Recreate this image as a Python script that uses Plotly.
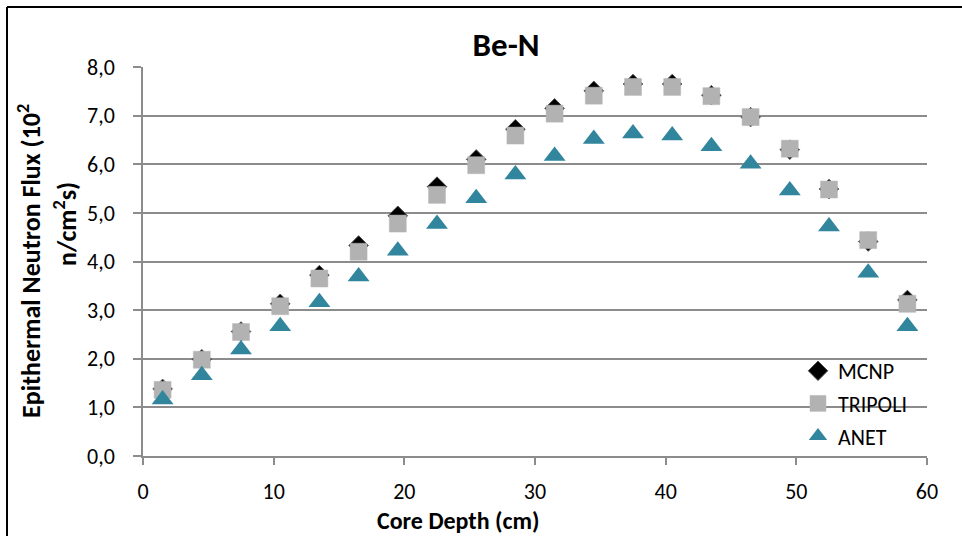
import plotly.graph_objects as go

# ---- data ----
depth = [1.5, 4.5, 7.5, 10.5, 13.5, 16.5, 19.5, 22.5, 25.5, 28.5,
         31.5, 34.5, 37.5, 40.5, 43.5, 46.5, 49.5, 52.5, 55.5, 58.5]
mcnp = [1.38, 1.99, 2.56, 3.13, 3.72, 4.33, 4.94, 5.54, 6.10, 6.72,
        7.15, 7.51, 7.65, 7.65, 7.42, 6.97, 6.30, 5.49, 4.41, 3.21]
tripoli = [1.36, 1.98, 2.55, 3.08, 3.65, 4.20, 4.78, 5.37, 5.98, 6.59,
           7.04, 7.41, 7.59, 7.59, 7.40, 6.97, 6.32, 5.48, 4.44, 3.13]
anet = [1.16, 1.66, 2.19, 2.67, 3.16, 3.69, 4.22, 4.77, 5.30, 5.79,
        6.17, 6.52, 6.63, 6.59, 6.37, 6.01, 5.46, 4.72, 3.77, 2.67]
series_names = ["MCNP", "TRIPOLI", "ANET"]
title_text = "Be-N"
x_title = "Core Depth (cm)"
y_title_1 = "Epithermal Neutron Flux (10<sup>2</sup>"
y_title_2 = "n/cm<sup>2</sup>s)"

FONT = "Carlito, Calibri, Lato, sans-serif"
GRID = "#8C8C8C"

# plot area in pixels
W, H = 962, 536
L, R, T, B = 143, 927, 67, 456

def px(xp):
    return (xp - L) / (R - L)

def py(yp):
    return (B - yp) / (B - T)

fig = go.Figure()
fig.add_trace(go.Scatter(
    x=depth, y=mcnp, mode="markers", name=series_names[0], legendgroup="a",
    marker=dict(symbol="diamond", size=15, color="#000000",
                line=dict(color="#505050", width=1))))
fig.add_trace(go.Scatter(
    x=depth, y=tripoli, mode="markers", name=series_names[1], legendgroup="b",
    marker=dict(symbol="square", size=17, color="#B2B2B2",
                line=dict(color="#B8B8B8", width=0.5))))
fig.add_trace(go.Scatter(
    x=depth, y=anet, mode="markers", name=series_names[2], legendgroup="c",
    marker=dict(symbol="triangle-up", size=19, color="#31859C",
                line=dict(width=0))))

fig.update_layout(
    width=W, height=H,
    margin=dict(l=L, r=W - R, t=T, b=H - B, pad=0),
    paper_bgcolor="white", plot_bgcolor="white",
    separators=", ",
    font=dict(family=FONT, size=22, color="#000000"),
    title=dict(text="<b>" + title_text + "</b>", x=506 / W, xanchor="center",
               y=1 - 44 / H, yanchor="middle",
               font=dict(family=FONT, size=33, color="#000000")),
    showlegend=True,
    legend=dict(x=px(798), y=py(350), xanchor="left", yanchor="top",
                bgcolor="rgba(0,0,0,0)", tracegroupgap=1,
                font=dict(family=FONT, size=22, color="#000000")),
    xaxis=dict(range=[0, 60], dtick=10, tick0=0, showgrid=False,
               showline=True, linecolor=GRID, linewidth=1.5,
               ticks="outside", ticklen=7, tickcolor=GRID, tickwidth=1.5,
               zeroline=False, ticklabelstandoff=8,
               tickfont=dict(family=FONT, size=22, color="#000000")),
    yaxis=dict(range=[0, 8], dtick=1, tick0=0, tickformat=".1f",
               showgrid=True, gridcolor=GRID, gridwidth=1.5,
               showline=True, linecolor=GRID, linewidth=1.5,
               ticks="outside", ticklen=8, tickcolor=GRID, tickwidth=1.5,
               zeroline=False, ticklabelstandoff=14,
               tickfont=dict(family=FONT, size=22, color="#000000")),
)

# axis titles
fig.add_annotation(text="<b>" + x_title + "</b>", x=px(458), y=py(520.5),
                   xref="paper", yref="paper", showarrow=False,
                   xanchor="center", yanchor="middle",
                   font=dict(family=FONT, size=24, color="#000000"))
fig.add_annotation(text="<b>" + y_title_1 + "</b>", x=px(29), y=py(261),
                   xref="paper", yref="paper", showarrow=False, textangle=-90,
                   xanchor="center", yanchor="middle",
                   font=dict(family=FONT, size=26, color="#000000"))
fig.add_annotation(text="<b>" + y_title_2 + "</b>", x=px(65), y=py(224),
                   xref="paper", yref="paper", showarrow=False, textangle=-90,
                   xanchor="center", yanchor="middle",
                   font=dict(family=FONT, size=26, color="#000000"))

# chart border (top and left edges visible)
fig.add_shape(type="line", xref="paper", yref="paper",
              x0=px(7), y0=py(7), x1=px(W + 5), y1=py(7),
              line=dict(color="#000000", width=2))
fig.add_shape(type="line", xref="paper", yref="paper",
              x0=px(7), y0=py(7), x1=px(7), y1=py(H + 5),
              line=dict(color="#000000", width=2))

fig.write_html("out.html",
               config={"displayModeBar": False},
               post_script="document.body.style.margin='0';"
                           "document.body.style.overflow='hidden';")
